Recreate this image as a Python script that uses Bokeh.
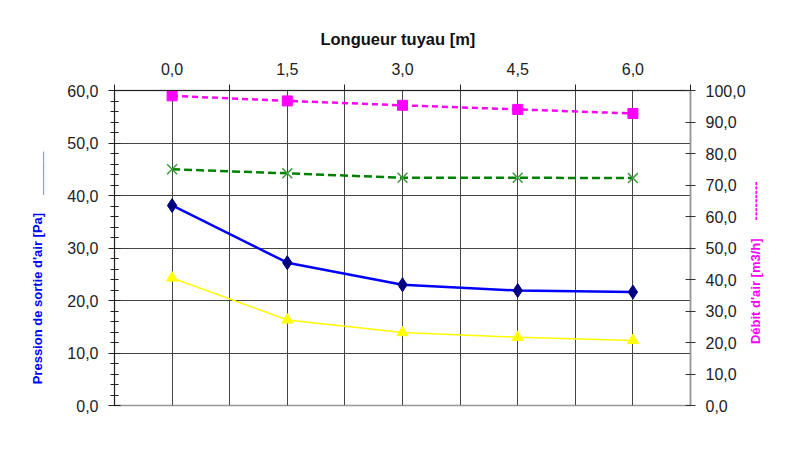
from math import pi
from bokeh.plotting import figure
from bokeh.models import (Range1d, LinearAxis, FixedTicker, SingleIntervalTicker,
                          CustomJSTickFormatter, Grid)
from bokeh.embed import file_html
from bokeh.resources import INLINE

# ---- data ----
longueur_labels = ["0,0", "1,5", "3,0", "4,5", "6,0"]
pression = [38.1, 27.2, 23.0, 21.9, 21.6]        # Pa, left axis (blue)
pression_2 = [24.3, 16.3, 13.9, 13.0, 12.4]      # Pa, left axis (yellow)
debit = [98.3, 96.7, 95.3, 94.0, 92.7]           # m3/h, right axis (magenta)
debit_2 = [75.0, 73.7, 72.3, 72.3, 72.2]         # m3/h, right axis (green)

n = len(longueur_labels)
xpos = [i + 0.5 for i in range(n)]

W, H = 795, 452
FL, FR, FT, FB = 114, 690, 90, 405
YMAX = 60
NB = "\u00a0"

p = figure(width=W, height=H, x_range=Range1d(0, n), y_range=Range1d(0, YMAX),
           output_backend="svg", toolbar_location=None,
           x_axis_location=None, y_axis_location=None,
           min_border_left=FL, min_border_right=W - FR,
           min_border_top=FT, min_border_bottom=H - FB)
p.extra_y_ranges = {"debit": Range1d(0, 100)}
p.background_fill_color = "white"
p.border_fill_color = "white"
p.outline_line_color = "#999999"
p.outline_line_width = 1.5

FONT = "Liberation Sans"
fmt = CustomJSTickFormatter(code="return tick.toFixed(1).replace('.', ',');")

# left axis
left = LinearAxis(ticker=SingleIntervalTicker(interval=10, num_minor_ticks=5),
                  formatter=fmt)
left.axis_line_color = "#222222"
left.major_tick_line_color = "#222222"
left.minor_tick_line_color = "#222222"
left.major_tick_in = 6
left.major_tick_out = 6
left.minor_tick_in = 4
left.minor_tick_out = 4
left.major_label_standoff = 10
left.major_label_text_font = FONT
left.major_label_text_font_size = "16px"
left.major_label_text_color = "#222222"
left.axis_label = "Pression de sortie d'air [Pa]" + NB * 5 + "______" + NB * 11
left.axis_label_text_font = FONT
left.axis_label_text_font_size = "13px"
left.axis_label_text_font_style = "bold"
left.axis_label_text_color = "#0000FF"
left.axis_label_standoff = 19
p.add_layout(left, "left")

# right axis
right = LinearAxis(y_range_name="debit",
                   ticker=SingleIntervalTicker(interval=10, num_minor_ticks=0),
                   formatter=fmt)
right.axis_line_color = "#999999"
right.axis_line_width = 1.5
right.major_tick_line_color = "#333333"
right.major_tick_in = 5
right.major_tick_out = 5
right.minor_tick_line_color = None
right.major_label_standoff = 10
right.major_label_text_font = FONT
right.major_label_text_font_size = "16px"
right.major_label_text_color = "#222222"
right_text = "Débit d'air [m3/h]" + NB * 5 + "---------"
if "axis_label_align" in right.properties():
    right.axis_label_align = "start"
    right.axis_label = NB * 17 + right_text
else:
    right.axis_label = right_text
right.axis_label_orientation = pi / 2
right.axis_label_text_font = FONT
right.axis_label_text_font_size = "13px"
right.axis_label_text_font_style = "bold"
right.axis_label_text_color = "#FF00FF"
right.axis_label_standoff = 7
p.add_layout(right, "right")

# top category axis
top = LinearAxis(ticker=FixedTicker(ticks=xpos, minor_ticks=list(range(n + 1))),
                 formatter=CustomJSTickFormatter(args=dict(labels=longueur_labels),
                                                 code="return labels[Math.floor(tick)];"))
top.axis_line_color = "#222222"
top.major_tick_line_color = None
top.major_tick_in = 0
top.major_tick_out = 0
top.minor_tick_line_color = "#222222"
top.minor_tick_in = 0
top.minor_tick_out = 6
top.major_label_standoff = 10
top.major_label_text_font = FONT
top.major_label_text_font_size = "16px"
top.major_label_text_color = "#222222"
top.axis_label = "Longueur tuyau [m]" + NB * 2
top.axis_label_text_font = FONT
top.axis_label_text_font_size = "16.5px"
top.axis_label_text_font_style = "bold"
top.axis_label_text_color = "#111111"
top.axis_label_standoff = 12
p.add_layout(top, "above")

# grids
vg = Grid(dimension=0, ticker=FixedTicker(ticks=[i * 0.5 for i in range(1, 2 * n)]),
          grid_line_color="#444444", grid_line_width=1)
hg = Grid(dimension=1, ticker=FixedTicker(ticks=list(range(10, YMAX, 10))),
          grid_line_color="#444444", grid_line_width=1)
p.add_layout(vg)
p.add_layout(hg)

# series
p.line(xpos, debit, y_range_name="debit", line_color="#FF00FF", line_width=2.5, line_dash="6 4")
p.scatter(xpos, debit, y_range_name="debit", marker="square", size=10,
          fill_color="#FF00FF", line_color="#FF00FF")

p.line(xpos, debit_2, y_range_name="debit", line_color="#008000", line_width=2.5, line_dash="8 4")
p.scatter(xpos, debit_2, y_range_name="debit", marker="x", size=14,
          line_color="#3c9c3c", line_width=1.5)

p.line(xpos, pression_2, line_color="#FFFF00", line_width=1.5)
p.scatter(xpos, pression_2, marker="triangle", size=11,
          fill_color="#FFFF00", line_color="#FFFF00")

p.line(xpos, pression, line_color="#0000FF", line_width=2.5)
p.scatter(xpos, pression, marker="diamond", size=14,
          fill_color="#000080", line_color="#000080")

open("out.html", "w").write(file_html(p, INLINE))
